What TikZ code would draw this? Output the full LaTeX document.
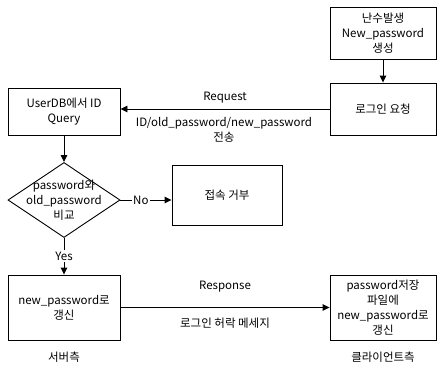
\documentclass[tikz,border=0pt]{standalone}
\usepackage{fontspec}
\setmainfont{Noto Sans CJK KR}
\usetikzlibrary{arrows.meta,shapes.geometric}
\begin{document}
\begin{tikzpicture}[x=1pt,y=-1pt,
  font=\fontsize{11.5}{15}\selectfont,
  every node/.style={inner sep=1pt},
  box/.style={draw,line width=0.9pt,align=center,inner sep=1pt},
  arr/.style={line width=0.9pt,-{Triangle[length=7pt,width=6.5pt]}},
  ln/.style={line width=0.9pt},
  lbl/.style={align=center,inner sep=0pt},
  onl/.style={fill=white,inner sep=1.5pt}]
\useasboundingbox (0,0) rectangle (437,370);
\node[box,minimum width=106pt,minimum height=52pt] (rand) at (383,33) {난수발생\\New\_password\\생성};
\node[box,minimum width=106pt,minimum height=52pt] (login) at (383,109) {로그인 요청};
\node[box,minimum width=112pt,minimum height=47pt] (userdb) at (64,111.5) {UserDB에서 ID\\Query};
\node[draw,line width=0.9pt,diamond,minimum width=112pt,minimum height=75pt,inner sep=0pt] (dia) at (64,200) {};
\node[lbl] (diatext) at (dia.center) {password와\\old\_password\\비교};
\node[box,minimum width=110pt,minimum height=60pt] (reject) at (227,195) {접속 거부};
\node[box,minimum width=112pt,minimum height=65pt] (upd) at (64,307.5) {new\_password로\\갱신};
\node[box,minimum width=106pt,minimum height=65pt] (cupd) at (383,307.5) {password저장\\파일에\\new\_password로\\갱신};
\draw[arr] (rand) -- (login);
\draw[arr] (login.west) -- (login.west -| userdb.east);
\node (req) at (225,98) {Request};
\node[lbl] (send) at (224,130) {ID/old\_password/new\_password\\전송};
\draw[arr] (userdb) -- (dia);
\draw[arr] (dia.east) -- node[onl,pos=0.4] (no) {No} (dia.east -| reject.west);
\draw[arr] (dia.south) -- node[onl,pos=0.5] (yes) {Yes} (upd.north);
\draw[arr] (upd.east) -- (upd.east -| cupd.west);
\node (resp) at (225,287) {Response};
\node (msg) at (225,323) {로그인 허락 메세지};
\node (server) at (64,357) {서버측};
\node (client) at (383,357) {클라이언트측};
\end{tikzpicture}
\end{document}
